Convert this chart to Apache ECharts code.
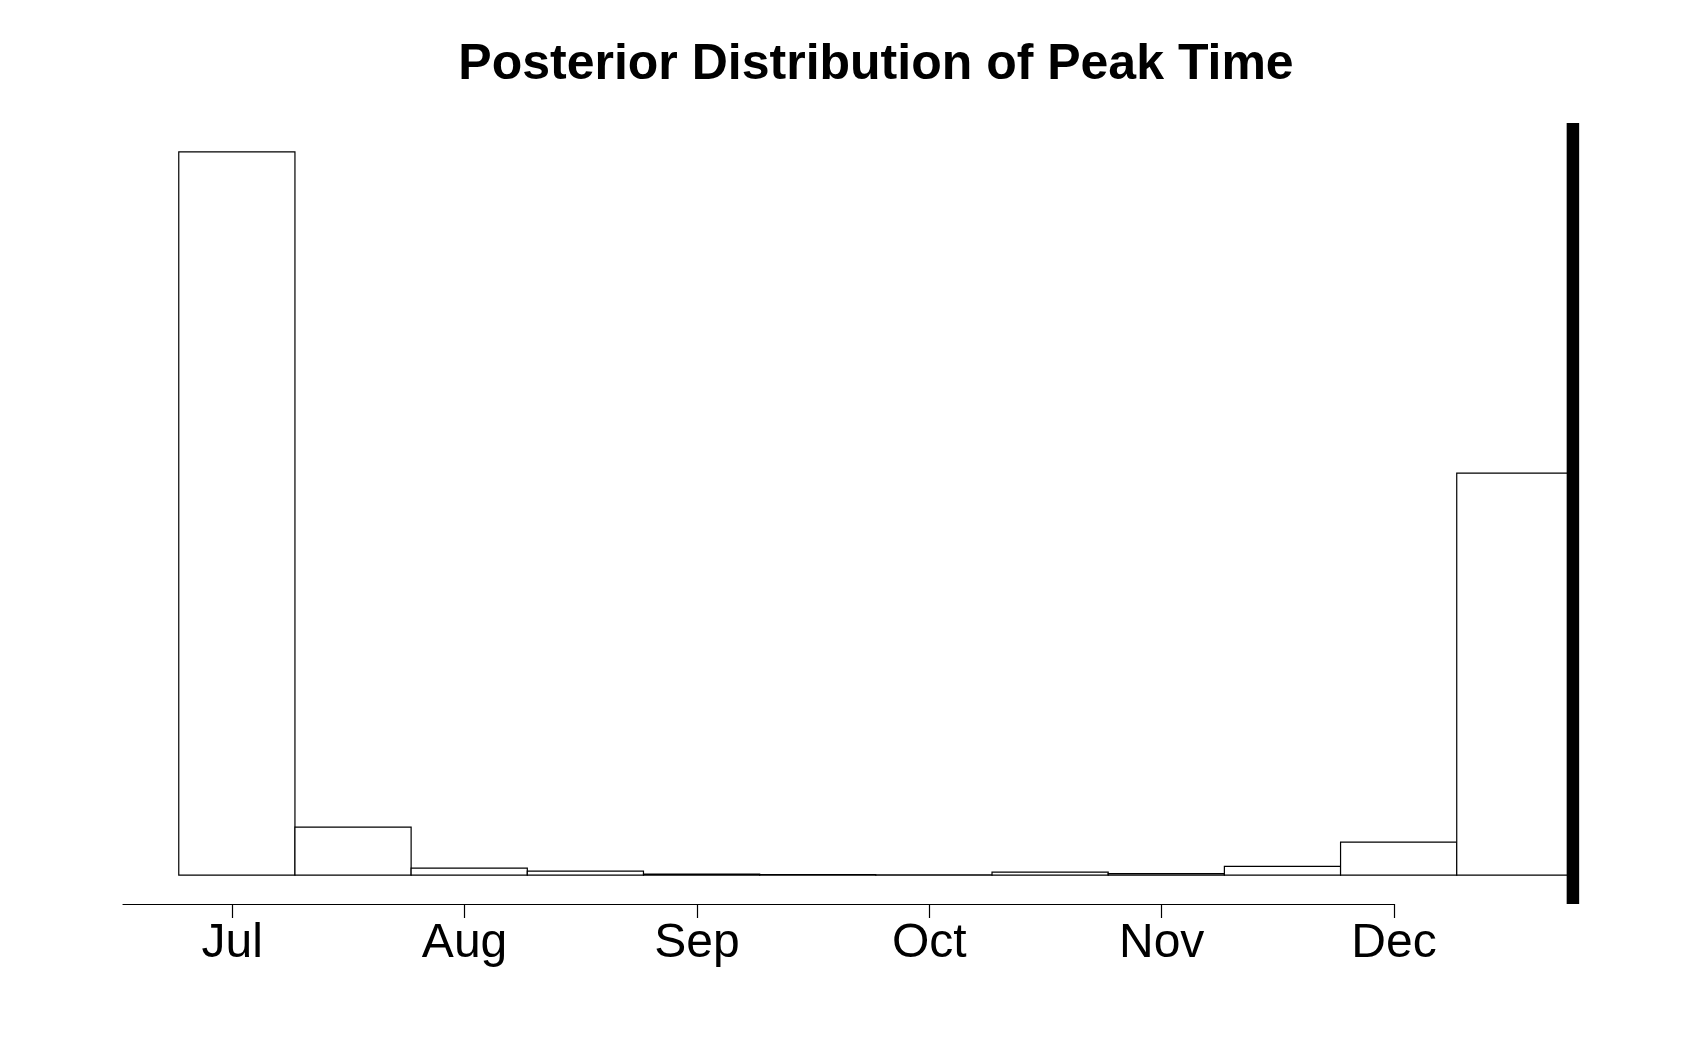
<!DOCTYPE html>
<html>
<head>
<meta charset="utf-8">
<title>Posterior Distribution of Peak Time</title>
<script src="https://cdn.jsdelivr.net/npm/echarts@6/dist/echarts.min.js"></script>
<style>
  html, body { margin: 0; padding: 0; background: #fff; }
  #chart { width: 1692px; height: 1058px; }
</style>
</head>
<body>
<div id="chart"></div>
<script>
'use strict';

// x in months since Jul (Jul = 0, Aug = 1, ...), bins are half a month wide
var binStarts = [-0.23, 0.27, 0.77, 1.27, 1.77, 2.27, 2.77, 3.27, 3.77, 4.27, 4.77, 5.27];
var binWidth = 0.5;
// posterior sample counts per bin (out of 10000)
var binCounts = [5870, 390, 57, 32, 8, 4, 2, 24, 11, 71, 268, 3263];
// month tick positions and labels
var monthTicks = [0, 1, 2, 3, 4, 5];
var monthLabels = ['Jul', 'Aug', 'Sep', 'Oct', 'Nov', 'Dec'];
// current time marker (thick vertical line)
var nowLine = [5.77];

var fontName = 'Liberation Sans, Arial, Helvetica, sans-serif';

var maxCount = Math.max.apply(null, binCounts);

var barData = [];
for (var i = 0; i < binStarts.length; i++) {
  barData.push([binStarts[i], binStarts[i] + binWidth, binCounts[i]]);
}

var myChart = echarts.init(document.getElementById('chart'), null, { renderer: 'canvas' });

var option = {
  backgroundColor: '#ffffff',
  animation: false,
  title: {
    text: 'Posterior Distribution of Peak Time',
    left: 871,
    top: 35,
    textAlign: 'center',
    textStyle: {
      fontFamily: fontName,
      fontSize: 50,
      fontWeight: 'bold',
      color: '#000'
    }
  },
  grid: {
    left: 123,
    right: 298,
    top: 123,
    bottom: 154,
    containLabel: false
  },
  xAxis: {
    type: 'value',
    min: -0.47,
    max: 5,
    axisLine: { show: true, onZero: false, lineStyle: { color: '#000', width: 1.2 } },
    axisTick: {
      show: true,
      length: 14,
      customValues: monthTicks,
      lineStyle: { color: '#000', width: 1.2 }
    },
    axisLabel: {
      show: true,
      customValues: monthTicks,
      margin: 16,
      fontFamily: fontName,
      fontSize: 48,
      color: '#000',
      formatter: function (val) {
        var idx = monthTicks.indexOf(Math.round(val));
        return idx >= 0 ? monthLabels[idx] : '';
      }
    },
    splitLine: { show: false }
  },
  yAxis: {
    type: 'value',
    show: false,
    min: -0.04 * maxCount,
    max: 1.04 * maxCount,
    splitLine: { show: false }
  },
  series: [
    {
      // histogram bars
      type: 'custom',
      clip: false,
      data: barData,
      renderItem: function (params, api) {
        var p0 = api.coord([api.value(0), 0]);
        var p1 = api.coord([api.value(1), api.value(2)]);
        return {
          type: 'rect',
          shape: { x: p0[0], y: p1[1], width: p1[0] - p0[0], height: p0[1] - p1[1] },
          style: { fill: '#ffffff', stroke: '#000000', lineWidth: 1.2 }
        };
      }
    },
    {
      // thick vertical line
      type: 'custom',
      clip: false,
      data: nowLine,
      renderItem: function (params, api) {
        var top = api.coord([api.value(0), 1.04 * maxCount]);
        var bot = api.coord([api.value(0), -0.04 * maxCount]);
        return {
          type: 'line',
          shape: { x1: top[0], y1: top[1], x2: bot[0], y2: bot[1] },
          style: { stroke: '#000000', lineWidth: 12.5 }
        };
      }
    }
  ]
};

myChart.setOption(option);
</script>
</body>
</html>
